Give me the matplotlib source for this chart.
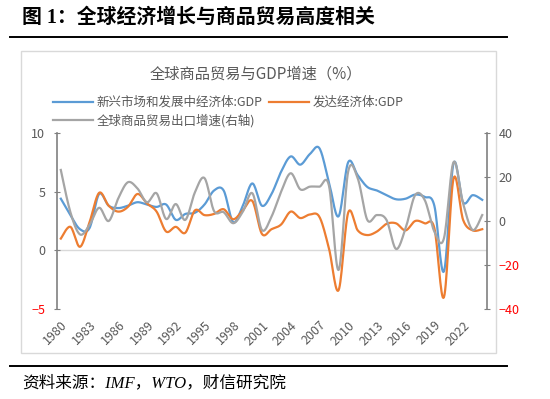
import numpy as np
import matplotlib
matplotlib.use("Agg")
import matplotlib.pyplot as plt
from matplotlib.lines import Line2D
from matplotlib.patches import Rectangle

plt.rcParams['font.family'] = ['Noto Sans CJK SC', 'DejaVu Sans']

years = list(range(1980, 2025))
# 新兴市场和发展中经济体 GDP growth, %
em_gdp = [4.4, 3.0, 1.8, 1.9, 4.8, 3.8, 3.6, 3.8, 4.1, 3.9,
          3.7, 3.9, 2.6, 3.1, 3.2, 3.9, 5.1, 5.1, 2.4, 3.8,
          5.7, 3.8, 4.8, 6.7, 8.0, 7.3, 8.2, 8.7, 5.8, 2.9,
          7.5, 6.4, 5.4, 5.1, 4.7, 4.35, 4.4, 4.75, 4.55, 3.8,
          -1.8, 7.4, 4.1, 4.7, 4.3]
# 发达经济体 GDP growth, %
adv_gdp = [1.0, 2.0, 0.3, 2.4, 4.9, 3.8, 3.3, 3.7, 4.8, 4.0,
           3.3, 1.6, 2.0, 1.5, 3.4, 3.0, 3.1, 3.5, 2.65, 3.4,
           4.2, 1.4, 1.8, 2.2, 3.3, 2.75, 3.05, 2.85, 0.15, -3.4,
           3.2, 1.7, 1.3, 1.6, 2.25, 2.3, 1.7, 2.5, 2.3, 1.9,
           -4.0, 6.1, 2.6, 1.7, 1.8]
# 全球商品贸易出口增速 (right axis), %
trade = [23.2, 4.0, -6.1, -1.8, 6.0, 0.0, 10.3, 17.6, 14.8, 8.5,
         12.6, 0.9, 7.7, 0.5, 13.0, 19.5, 4.5, 4.0, -1.0, 4.2,
         12.6, -4.1, 2.0, 13.3, 21.7, 14.4, 15.6, 15.6, 16.0, -22.3,
         22.4, 19.4, 0.5, 2.7, 0.5, -12.7, -3.3, 11.8, 9.5, -4.8,
         -7.9, 26.7, 8.0, -4.1, 2.7]
xticks = list(range(1980, 2023, 3))


def smooth(x, y, n=16):
    # Catmull-Rom curve through the data points (like Excel "smoothed line")
    x = np.asarray(x, float)
    y = np.asarray(y, float)
    px = np.concatenate([[x[0]], x, [x[-1]]])
    py = np.concatenate([[y[0]], y, [y[-1]]])
    t = np.linspace(0, 1, n, endpoint=False)[:, None]
    out = []
    for p in (px, py):
        p0, p1, p2, p3 = p[:-3], p[1:-2], p[2:-1], p[3:]
        c = 0.5 * (2 * p1 + (-p0 + p2) * t + (2 * p0 - 5 * p1 + 4 * p2 - p3) * t ** 2
                   + (-p0 + 3 * p1 - 3 * p2 + p3) * t ** 3)
        out.append(np.append(c.T.ravel(), p[-2]))
    return out


blue, orange, grey = "#5B9BD5", "#ED7D31", "#A5A5A5"
txt = "#595959"

fig = plt.figure(figsize=(5.5, 3.99), dpi=100)

fig.text(0.04, 0.955, "图 1：全球经济增长与商品贸易高度相关", fontsize=14.3,
         fontweight="bold", va="center", ha="left",
         family=["Liberation Serif", "Noto Sans CJK SC"])
fig.add_artist(Line2D([0.018, 0.922], [0.907, 0.907], color="black", lw=1.4))
fig.add_artist(Line2D([0.018, 0.922], [0.083, 0.083], color="black", lw=1.4))
fig.add_artist(Rectangle((0.038, 0.115), 0.864, 0.757, fill=False,
                         edgecolor="#d9d9d9", lw=1))
fig.text(0.04, 0.04, "资料来源：IMF，WTO，财信研究院", fontsize=12,
         fontstyle="italic", va="center", ha="left",
         family=["Liberation Serif", "Noto Sans CJK SC"])
fig.text(0.465, 0.815, "全球商品贸易与GDP增速（%）", fontsize=11, color=txt,
         ha="center", va="center")

ax = fig.add_axes([0.1036, 0.2256, 0.7819, 0.4411])
ax2 = ax.twinx()

ax.plot(*smooth(years, em_gdp), color=blue, lw=1.6)
ax.plot(*smooth(years, adv_gdp), color=orange, lw=1.6)
ax2.plot(*smooth(years, trade), color=grey, lw=1.6)
ax.axhline(0, color="#d9d9d9", lw=1, zorder=0)

ax.set_xlim(1979.6, 2024.5)
ax.set_ylim(-5, 10)
ax.set_yticks([-5, 0, 5, 10])
ax2.set_ylim(-40, 40)
ax2.set_yticks([-40, -20, 0, 20, 40])
ax.set_xticks(xticks)
ax.set_xticklabels([str(v) for v in xticks], rotation=45, ha="right",
                   va="top", rotation_mode="anchor", fontsize=9, color=txt)

for a in (ax, ax2):
    a.set_facecolor("none")
    for s in ("top", "bottom"):
        a.spines[s].set_visible(False)
ax.spines["right"].set_visible(False)
ax2.spines["left"].set_visible(False)
ax.spines["left"].set_color("#808080")
ax2.spines["right"].set_color("#808080")
ax.spines["left"].set_linewidth(1.2)
ax2.spines["right"].set_linewidth(1.2)
ax.tick_params(axis="x", length=0, pad=7)
ax.tick_params(axis="y", direction="inout", length=5, color="#808080",
               labelsize=9, pad=6)
ax2.tick_params(axis="y", direction="inout", length=5, color="#808080",
                labelsize=9, pad=6)
for a in (ax, ax2):
    for lab, v in zip(a.get_yticklabels(), a.get_yticks()):
        lab.set_color("red" if v < 0 else txt)

handles = [Line2D([], [], color=blue, lw=1.6), Line2D([], [], color=grey, lw=1.6),
           Line2D([], [], color=orange, lw=1.6)]
labels = ["新兴市场和发展中经济体:GDP", "全球商品贸易出口增速(右轴)", "发达经济体:GDP"]
fig.legend(handles, labels, ncol=2, loc="upper left", bbox_to_anchor=(0.085, 0.775),
           frameon=False, fontsize=9, handlelength=3.2, handletextpad=0.3,
           columnspacing=0.5, labelspacing=0.35, labelcolor=txt, borderpad=0)

fig.savefig("out.png", dpi=100)
